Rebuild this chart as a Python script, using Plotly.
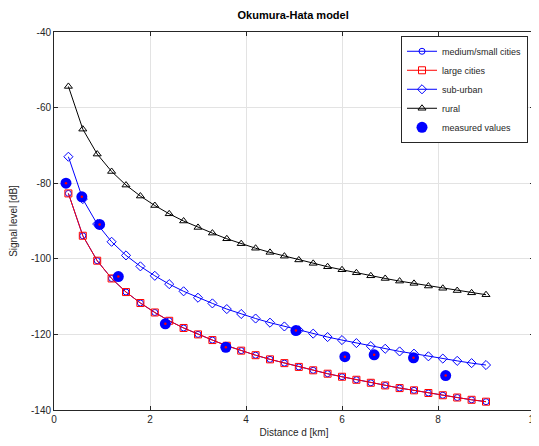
import plotly.graph_objects as go

distance_km = [0.3, 0.6, 0.9, 1.2, 1.5, 1.8, 2.1, 2.4, 2.7, 3.0,
               3.3, 3.6, 3.9, 4.2, 4.5, 4.8, 5.1, 5.4, 5.7, 6.0,
               6.3, 6.6, 6.9, 7.2, 7.5, 7.8, 8.1, 8.4, 8.7, 9.0]

large_cities = [-82.7, -93.9, -100.5, -105.2, -108.8, -111.7, -114.2, -116.4, -118.3, -120.0,
                -121.5, -123.0, -124.3, -125.5, -126.6, -127.6, -128.6, -129.5, -130.4, -131.2,
                -132.0, -132.8, -133.5, -134.2, -134.8, -135.5, -136.1, -136.7, -137.3, -137.8]

medium_small_cities = [-82.7, -93.9, -100.5, -105.2, -108.8, -111.7, -114.2, -116.4, -118.3, -120.0,
                       -121.5, -123.0, -124.3, -125.5, -126.6, -127.6, -128.6, -129.5, -130.4, -131.2,
                       -132.0, -132.8, -133.5, -134.2, -134.8, -135.5, -136.1, -136.7, -137.3, -137.8]

sub_urban = [-73.0, -84.2, -90.8, -95.5, -99.1, -102.0, -104.5, -106.7, -108.6, -110.3,
             -111.8, -113.3, -114.6, -115.8, -116.9, -117.9, -118.9, -119.8, -120.7, -121.5,
             -122.3, -123.1, -123.8, -124.5, -125.1, -125.8, -126.4, -127.0, -127.6, -128.1]

rural = [-54.4, -65.7, -72.3, -76.9, -80.5, -83.4, -85.9, -88.1, -90.0, -91.7,
         -93.2, -94.7, -96.0, -97.2, -98.3, -99.3, -100.3, -101.2, -102.1, -102.9,
         -103.7, -104.5, -105.2, -105.9, -106.5, -107.2, -107.8, -108.4, -109.0, -109.5]

measured_km = [0.25, 0.58, 0.95, 1.34, 2.32, 3.58, 5.04, 6.06, 6.67, 7.49, 8.16]
measured_db = [-80.0, -83.6, -90.9, -104.7, -117.2, -123.4, -119.0, -125.9, -125.4, -126.2, -130.9]

x_ticks = [0, 2, 4, 6, 8, 10]
y_ticks = [-140, -120, -100, -80, -60, -40]

FONT = "Liberation Sans, Arial, sans-serif"
AXC = "#262626"

fig = go.Figure()
fig.add_trace(go.Scatter(
    x=distance_km, y=medium_small_cities, mode="lines+markers", name="medium/small cities",
    line=dict(color="#0000ff", width=1),
    marker=dict(symbol="circle-open", size=6, color="#0000ff", line=dict(width=1))))
fig.add_trace(go.Scatter(
    x=distance_km, y=large_cities, mode="lines+markers", name="large cities",
    line=dict(color="#ff0000", width=1),
    marker=dict(symbol="square-open", size=7, color="#ff0000", line=dict(width=1))))
fig.add_trace(go.Scatter(
    x=distance_km, y=sub_urban, mode="lines+markers", name="sub-urban",
    line=dict(color="#0000ff", width=1),
    marker=dict(symbol="diamond-open", size=7, color="#0000ff", line=dict(width=1))))
fig.add_trace(go.Scatter(
    x=distance_km, y=rural, mode="lines+markers", name="rural",
    line=dict(color="#000000", width=1),
    marker=dict(symbol="triangle-up-open", size=7, color="#000000", line=dict(width=1))))
fig.add_trace(go.Scatter(
    x=measured_km, y=measured_db, mode="markers", name="measured values",
    marker=dict(symbol="circle", size=11, color="#0000ff", line=dict(width=0))))
fig.add_trace(go.Scatter(
    x=measured_km, y=measured_db, mode="markers", showlegend=False, hoverinfo="skip",
    marker=dict(symbol="circle", size=2.5, color="#ff0000", line=dict(width=0))))

axis_common = dict(
    showline=True, linecolor=AXC, linewidth=1, mirror="ticks",
    ticks="inside", ticklen=4, tickcolor=AXC, automargin=False,
    showgrid=True, gridcolor="#e3e3e3", gridwidth=1, zeroline=False,
    tickfont=dict(family=FONT, size=10, color=AXC),
    ticklabeloverflow="allow",
)

fig.update_xaxes(range=[0, 10], tickvals=x_ticks, ticktext=[str(v) for v in x_ticks],
                 title=dict(text="Distance d [km]", font=dict(family=FONT, size=10, color=AXC), standoff=4),
                 **axis_common)
fig.update_yaxes(range=[-140, -40], tickvals=y_ticks, ticktext=[str(v) for v in y_ticks],
                 title=dict(text="Signal level [dB]", font=dict(family=FONT, size=10, color=AXC), standoff=12),
                 **axis_common)

# The page body has an 8px margin, so the figure is offset by (8, 8) in the window.
fig.update_layout(
    width=531, height=438,
    margin=dict(l=46, r=5, t=24, b=36),
    paper_bgcolor="white", plot_bgcolor="white",
    title=dict(text="<b>Okumura-Hata model</b>", x=0.537, xanchor="center",
               y=0.993, yanchor="top", pad=dict(t=0, b=0, l=0, r=0),
               font=dict(family=FONT, size=11, color="#000000")),
    legend=dict(x=0.9875, xanchor="right", y=0.99, yanchor="top",
                bgcolor="white", bordercolor=AXC, borderwidth=1,
                font=dict(family=FONT, size=9, color=AXC),
                tracegroupgap=0, itemwidth=30),
    showlegend=True,
)

fig.write_html("out.html")
